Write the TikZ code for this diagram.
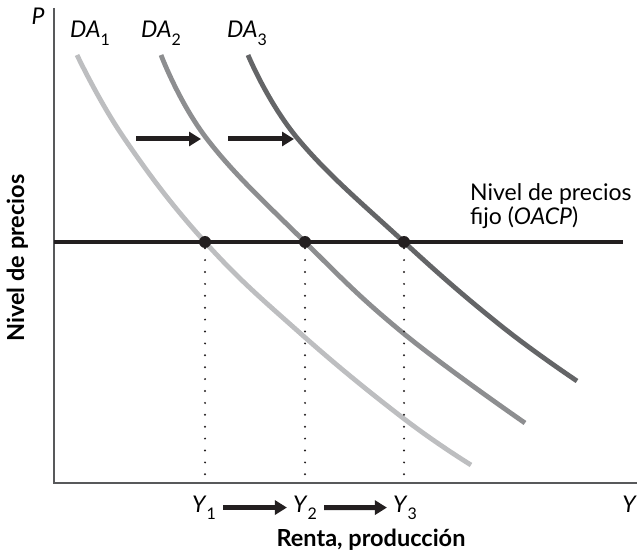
\documentclass[tikz,border=0pt]{standalone}
\usepackage{fontspec}
\setmainfont{Lato}
\usetikzlibrary{arrows.meta, positioning}

\definecolor{curveA}{HTML}{BDBEC0}
\definecolor{curveB}{HTML}{8D8E90}
\definecolor{curveC}{HTML}{646567}
\definecolor{ink}{HTML}{231F20}
\definecolor{axisgray}{HTML}{58595B}

\newcommand{\ysub}[2]{\textit{#1}\raisebox{-0.65ex}{\fontsize{16}{16}\selectfont #2}}

\begin{document}
\begin{tikzpicture}[
    x=1pt, y=-1pt,
    font=\fontsize{23}{27}\selectfont,
    axis/.style={axisgray, line width=1.6pt},
    demand/.style={line width=4.8pt},
    fixed/.style={ink, line width=4.8pt},
    guide/.style={ink, line width=2.2pt, line cap=round, dash pattern=on 0pt off 11.9pt},
    shiftarrow/.style={ink, line width=5pt, -{Triangle[length=12pt, width=14pt]}},
    point/.style={circle, fill=ink, inner sep=0pt, minimum size=12pt},
    label/.style={inner sep=0pt, anchor=base},
    title/.style={inner sep=0pt, font=\fontsize{23.5}{27}\selectfont\bfseries}
]
\useasboundingbox (0,0) rectangle (637,553);

\coordinate (origin) at (54,483);
\coordinate (ptop) at (54,8);
\coordinate (yend) at (637,483);
\draw[axis] (ptop) -- (origin) -- (yend);

\draw[demand, curveA] plot[smooth, tension=0.7] coordinates
    {(77,55) (124,138) (205,242) (300,333) (403,418) (471,465)};
\draw[demand, curveB] plot[smooth, tension=0.7] coordinates
    {(161,55) (207,139) (305,242) (403,333) (525,423)};
\draw[demand, curveC] plot[smooth, tension=0.7] coordinates
    {(248,55) (298,139) (404,242) (500,325) (577,381)};

\coordinate (fixL) at (54,242);
\coordinate (fixR) at (623,242);
\draw[fixed] (fixL) -- (fixR);

\node[point] (e1) at (205,242) {};
\node[point] (e2) at (305,242) {};
\node[point] (e3) at (404,242) {};

\draw[guide] (e1) -- (e1 |- origin);
\draw[guide] (e2) -- (e2 |- origin);
\draw[guide] (e3) -- (e3 |- origin);

\node[label] (P) at (38,25) {\textit{P}};
\node[label, anchor=base west] (da1) at (70,38) {\ysub{DA}{1}};
\node[label, anchor=base west] (da2) at (141,38) {\ysub{DA}{2}};
\node[label, anchor=base west] (da3) at (227,38) {\ysub{DA}{3}};

\node[label, anchor=base west] (fixtxt) at (470,201) {Nivel de precios};
\node[label, anchor=base west] (fixsub) at (470,225) {fijo (\textit{OACP})};

\coordinate (s1a) at (136,139);
\coordinate (s1b) at (201,139);
\coordinate (s2a) at (228,139);
\coordinate (s2b) at (294,139);
\draw[shiftarrow] (s1a) -- (s1b);
\draw[shiftarrow] (s2a) -- (s2b);

\node[label] (y1) at (204,512) {\ysub{Y}{1}};
\node[label] (y2) at (305,512) {\ysub{Y}{2}};
\node[label] (y3) at (405,512) {\ysub{Y}{3}};
\node[label, anchor=base east] (ylab) at (637,512) {\textit{Y}};

\draw[shiftarrow, shorten <=7pt, shorten >=6pt] (y1.east) -- (y2.west);
\draw[shiftarrow, shorten <=7pt, shorten >=6pt] (y2.east) -- (y3.west);

\node[title, anchor=base] (xtitle) at (371,546) {Renta, producción};
\node[title, rotate=90, anchor=base] (ytitle) at (24,258) {Nivel de precios};

\end{tikzpicture}
\end{document}
